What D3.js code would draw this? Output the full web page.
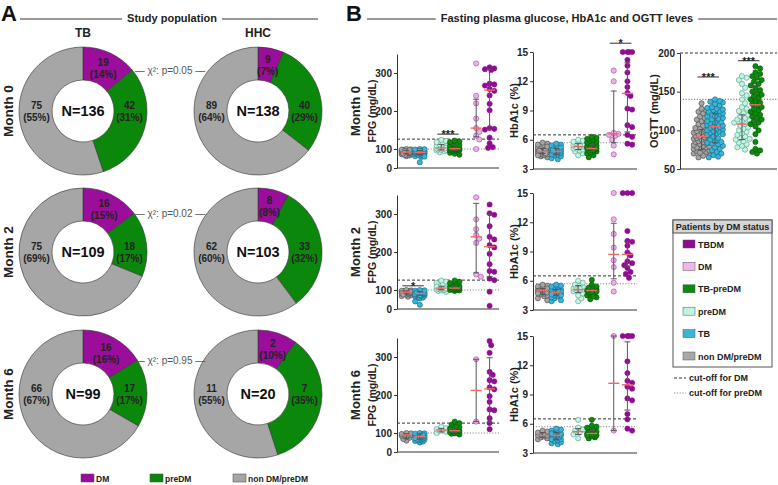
<!DOCTYPE html>
<html><head><meta charset="utf-8">
<script src="https://cdn.jsdelivr.net/npm/d3@7"></script>
<style>body{margin:0;background:#fff} svg{display:block;font-family:"Liberation Sans",Arial,sans-serif}</style>
</head><body><svg id="c" width="778" height="485"></svg>
<script>
// ---------------- DATA ----------------
const months = ["Month 0","Month 2","Month 6"];
const donutCats = ["DM","preDM","non DM/preDM"];
const tbCounts  = [[19,42,75],[16,18,75],[16,17,66]];
const tbPct     = [[14,31,55],[15,17,69],[16,17,67]];
const hhcCounts = [[9,40,89],[8,33,62],[2,7,11]];
const hhcPct    = [[7,29,64],[8,32,60],[10,35,55]];
const chiP = ["0.05","0.02","0.95"];

const groups = ["non DM/preDM","TB","preDM","TB-preDM","DM","TBDM"];
const legendOrder = ["TBDM","DM","TB-preDM","preDM","TB","non DM/preDM"];

const fpgTicks = [0,100,200,300];
const hba1cTicks = [3,6,9,12,15];
const ogttTicks = [50,100,150,200];
const fpgCutoffs = [126,100];     // DM, preDM
const hba1cCutoffs = [6.5,5.7];
const ogttCutoffs = [200,140];

// FPG (mg/dL) — groups in order of `groups`
const fpgM0 = [
 [62,66,70,72,74,75,77,78,79,80,81,82,83,84,85,86,86,87,88,89,90,91,92,93,94,95,96,97,98,100,68,76,84,90,95],
 [30,58,62,65,68,70,72,74,75,77,78,80,81,82,83,84,85,86,87,88,89,90,92,93,95,97,99,100,60,79,85,91],
 [82,88,92,95,98,100,102,104,106,108,110,112,115,118,121,124,96,103],
 [70,75,80,85,88,90,92,94,96,98,100,101,102,104,106,108,110,112,115,118,120,122,95,99],
 [100,125,135,145,155,180,220,240,325],
 [103,105,115,130,151,153,155,202,219,241,253,258,267,270,272,308,310,312,315]
];
const fpgM0Stats = [[84,74,93],[82,70,92],[103,95,112],[101,92,110],[155,132,231],[255,152,310]];
const fpgM2 = [
 [65,68,72,75,78,80,82,84,85,86,88,89,90,91,92,93,94,95,96,98,100,87,83,91,76],
 [22,40,55,60,63,66,68,70,72,74,76,78,79,80,81,82,83,84,85,86,88,90,92,94,96,98,100,77,87,73],
 [90,95,98,100,101,102,103,104,105,106,107,108,110,112,115,118,122,125,104,109],
 [95,98,100,100,101,102,103,104,105,106,108,110,112,115,118,122,125,107],
 [135,141,224,235,245,260,286,344],
 [17,91,126,130,148,150,168,195,212,218,233,240,268,298,302,325]
];
const fpgM2Stats = [[88,80,95],[82,72,92],[105,101,110],[105,101,110],[240,145,328],[214,135,300]];
const fpgM6 = [
 [60,68,75,80,85,89,90,92,95,98,100],
 [50,55,58,60,62,65,68,70,72,74,76,78,80,82,84,86,88,90,92,94,96,98,100,66,79,85,91,73],
 [100,103,106,108,110,113,117],
 [92,96,98,100,102,104,105,106,107,108,110,112,115,118,122,126,130],
 [130,294],
 [110,126,139,160,162,182,197,215,220,236,239,253,261,311,331,342]
];
const fpgM6Stats = [[89,70,96],[82,68,95],[108,103,112],[106,101,113],[212,130,294],[216,128,298]];

// HbA1c (%)
const hba1cM0 = [
 [4.2,4.3,4.4,4.5,4.5,4.6,4.6,4.7,4.7,4.8,4.8,4.8,4.9,4.9,5.0,5.0,5.1,5.1,5.2,5.2,5.3,5.4,5.5,5.6,5.7,4.4,4.9,5.0,4.6,5.3],
 [4.0,4.1,4.3,4.4,4.5,4.6,4.6,4.7,4.7,4.8,4.8,4.9,4.9,5.0,5.0,5.1,5.1,5.2,5.3,5.4,5.5,5.6,4.5,4.8,5.0,5.2],
 [4.4,4.6,4.8,4.9,5.0,5.1,5.2,5.3,5.3,5.4,5.5,5.6,5.7,5.8,5.9,6.0,5.1,5.4],
 [4.2,4.4,4.6,4.7,4.8,4.9,5.0,5.0,5.1,5.1,5.2,5.3,5.4,5.5,5.6,5.7,5.8,5.9,6.0,6.1,6.2,6.3,5.2,4.9],
 [4.5,5.4,6.0,6.4,6.5,6.6,6.7,12.0,13.1],
 [5.5,5.6,6.3,6.5,7.3,7.5,9.1,9.2,10.5,10.8,11.4,12.0,12.9,13.6,14.2,15,15,15,15]
];
const hba1cM0Stats = [[4.8,4.6,5.1],[4.8,4.5,5.1],[5.3,5.0,5.6],[5.1,4.8,5.5],[6.6,5.7,11.0],[10.75,6.8,13.9]];
const hba1cM2 = [
 [4.0,4.2,4.4,4.5,4.6,4.7,4.8,4.9,5.0,5.0,5.1,5.1,5.2,5.3,5.4,5.5,5.6,4.8,5.0,4.9,5.2,4.7],
 [3.9,4.0,4.2,4.3,4.4,4.5,4.6,4.7,4.7,4.8,4.8,4.9,5.0,5.1,5.2,5.3,5.4,5.5,5.6,4.6,4.9,5.0,4.5],
 [3.9,4.2,4.5,4.7,4.9,5.0,5.1,5.2,5.3,5.4,5.5,5.6,5.8,6.0,5.0,5.2],
 [4.1,4.3,4.5,4.6,4.7,4.8,4.9,5.0,5.1,5.2,5.4,5.6,6.1,4.9,5.0,4.8,5.3,4.4],
 [4.9,5.8,7.4,8.1,9.4,10.8,12.3,15],
 [6.3,6.7,6.9,7.3,7.6,7.8,8.0,8.6,8.9,9.6,10.0,10.1,11.1,15,15,15]
];
const hba1cM2Stats = [[5.0,4.6,5.2],[4.8,4.5,5.1],[5.1,4.8,5.5],[5.0,4.7,5.3],[8.7,6.2,11.9],[8.7,7.5,10.0]];
const hba1cM6 = [
 [4.4,4.5,4.6,4.7,4.8,4.8,4.9,5.0,5.1,5.2,5.3],
 [3.9,4.0,4.1,4.2,4.3,4.4,4.5,4.6,4.7,4.8,4.8,4.9,5.0,5.1,5.2,5.3,5.4,5.5,4.6,4.9,5.0,4.4],
 [4.5,4.9,5.1,5.3,5.4,5.6,6.4],
 [4.5,4.6,4.7,4.8,4.9,4.9,5.0,5.0,5.1,5.2,5.3,5.4,5.6,5.7,5.8,6.4,4.8],
 [5.3,15],
 [5.3,5.5,6.45,7.0,8.4,8.6,9.6,9.8,10.2,10.4,11.2,12.4,15,15,15,15]
];
const hba1cM6Stats = [[4.8,4.6,5.1],[4.8,4.4,5.1],[5.2,4.9,5.5],[5.0,4.8,5.3],[10.15,5.3,15],[10.0,7.4,14.4]];

// OGTT (mg/dL), Month 0, first four groups
const ogttM0 = [
 [65,67,68,70,72,73,74,75,76,77,78,78,79,80,81,82,83,84,85,85,86,87,88,89,90,91,92,92,93,94,95,96,97,98,99,100,101,102,103,104,106,108,110,112,114,116,118,120,122,124,126,128,135,71,88,96],
 [65,66,68,70,72,74,76,78,80,82,83,84,86,88,90,92,94,96,97,98,99,100,101,102,103,104,105,106,107,108,109,110,111,112,114,116,118,120,121,122,123,124,125,126,127,128,130,132,134,136,138,140,95,115,85,118,129,137],
 [75,78,80,82,84,86,88,89,90,92,94,96,98,100,102,104,106,108,110,112,113,114,116,118,120,122,125,128,130,135,140,145,148,155,160,165,168,170],
 [70,72,74,76,85,95,100,105,108,110,112,114,116,118,120,122,124,126,128,130,132,134,136,138,140,142,144,146,148,150,152,155,158,160,163,165,168,170,173,175,180,183]
];
const ogttM0Stats = [[92,75,101],[105,84,122],[108,88,120],[133,113,157]];

const sigMarks = [
 {panel:"fpg",  month:0, a:2, b:3, v:139, t:"***"},
 {panel:"hba1c",month:0, a:4, b:5, v:15.9, t:"*"},
 {panel:"ogtt", month:0, a:0, b:1, v:169, t:"***"},
 {panel:"ogtt", month:0, a:2, b:3, v:190, t:"***"},
 {panel:"fpg",  month:1, a:0, b:1, v:111, t:"*"}
];

// ---------------- STYLE ----------------
const donutColors = ["#9b0e9b","#0b880b","#a6a6a6"];
const groupFill   = ["#a5a5a5","#3ab5d8","#c4f5e3","#0b8a0b","#efb0ea","#900d92"];
const groupStroke = ["#444","#15607c","#4f9c86","#045504","#9a4a96","#900d92"];
const legendFill  = {"TBDM":"#8d0b8d","DM":"#f4b4f0","TB-preDM":"#0b8a0b","preDM":"#bff4e2","TB":"#3ab5d8","non DM/preDM":"#a8a8a8"};
const svg = d3.select("#c");
const BOLD = 700;

// ---------------- TITLES ----------------
function header(letterX, lineX0, lineX1, textX, text, title){
  svg.append("text").attr("x",letterX).attr("y",21).attr("font-size",22).attr("font-weight",BOLD).attr("fill","#111").text(title);
  const t = svg.append("text").attr("x",textX).attr("y",22).attr("text-anchor","middle")
    .attr("font-size",11).attr("font-weight",BOLD).attr("fill","#222").text(text);
  const w = t.node().getComputedTextLength();
  svg.append("line").attr("x1",lineX0).attr("x2",textX-w/2-5).attr("y1",19).attr("y2",19).attr("stroke","#333");
  svg.append("line").attr("x1",textX+w/2+5).attr("x2",lineX1).attr("y1",19).attr("y2",19).attr("stroke","#333");
}
header(1, 20, 318, 172, "Study population", "A");
header(346, 367, 777, 567, "Fasting plasma glucose, HbA1c and OGTT leves", "B");

// ---------------- PANEL A : DONUTS ----------------
const rowCY = [111, 252, 394];
const colCX = [83, 258];
const rOut = 64, rIn = 31;
const pie = d3.pie().sort(null).value(d=>d);
const arc = d3.arc().innerRadius(rIn).outerRadius(rOut);
const lblArc = d3.arc().innerRadius((rIn+rOut)/2).outerRadius((rIn+rOut)/2);
const midR = (rIn+rOut)/2;

["TB","HHC"].forEach((t,c)=>{
  svg.append("text").attr("x",colCX[c]).attr("y",37).attr("text-anchor","middle")
    .attr("font-size",12).attr("font-weight",BOLD).attr("fill","#222").text(t);
});

months.forEach((m,r)=>{
  svg.append("text").attr("transform",`translate(13,${rowCY[r]}) rotate(-90)`).attr("text-anchor","middle")
    .attr("font-size",13.5).attr("font-weight",BOLD).attr("fill","#222").text(m);
  [tbCounts, hhcCounts].forEach((cnts,c)=>{
    const pcts = c===0 ? tbPct[r] : hhcPct[r];
    const g = svg.append("g").attr("transform",`translate(${colCX[c]},${rowCY[r]})`);
    const arcs = pie(cnts[r]);
    g.selectAll("path").data(arcs).join("path").attr("d",arc)
      .attr("fill",(d,i)=>donutColors[i]).attr("stroke","#333").attr("stroke-width",0.6);
    arcs.forEach((d,i)=>{
      let [lx,ly] = lblArc.centroid(d);
      // slices crossing the horizontal diameter carry their label at mid height
      if (d.startAngle < Math.PI/2 && d.endAngle > Math.PI/2) { lx = midR - 1; ly = 0; }
      else if (d.startAngle < 3*Math.PI/2 && d.endAngle > 3*Math.PI/2) { lx = -midR + 1; ly = 0; }
      const tx = g.append("text").attr("text-anchor","middle").attr("font-size",10).attr("font-weight",BOLD).attr("fill","#222");
      tx.append("tspan").attr("x",lx).attr("y",ly-2).text(cnts[r][i]);
      tx.append("tspan").attr("x",lx).attr("y",ly+10).text(`(${pcts[i]}%)`);
    });
    g.append("text").attr("text-anchor","middle").attr("y",5).attr("font-size",14.5).attr("font-weight",BOLD)
      .attr("fill","#111").text("N=" + d3.sum(cnts[r]));
  });
  // chi-square annotation at the TB DM-slice boundary height
  const endA = pie(tbCounts[r])[0].endAngle;
  const cy = rowCY[r] - rOut*Math.cos(endA) + 4;
  svg.append("text").attr("x",170).attr("y",cy).attr("text-anchor","middle").attr("font-size",10)
    .attr("fill","#555").text(`— χ²: p=${chiP[r]} —`);
});

// legend A
const legA = [{x:81},{x:150},{x:233}];
donutCats.forEach((k,i)=>{
  svg.append("rect").attr("x",legA[i].x).attr("y",474).attr("width",13).attr("height",8)
    .attr("fill",donutColors[i]).attr("stroke","#444").attr("stroke-width",0.5);
  svg.append("text").attr("x",legA[i].x+15).attr("y",482).attr("font-size",8.5).attr("font-weight",BOLD).attr("fill","#222").text(k);
});

// ---------------- PANEL B : STRIP PLOTS ----------------
const rowDY = [0, 141, 284];
const R = 2.6;

function swarm(ys, cx, r, half){
  const order = d3.range(ys.length).sort((a,b)=>ys[a]-ys[b]);
  const placed = [], out = new Array(ys.length);
  const minD = 2*r*0.82, step = r*0.6;
  order.forEach(i=>{
    const y = ys[i];
    let best = 0, bestScore = -1;
    for (let k=0;k<80;k++){
      const off = k===0 ? 0 : (k%2 ? 1 : -1)*Math.ceil(k/2)*step;
      if (Math.abs(off) > half) break;
      let md = Infinity;
      for (const p of placed){ const d = Math.hypot(cx+off-p.x, y-p.y); if (d<md) md=d; }
      if (md >= minD){ best = off; bestScore = Infinity; break; }
      if (md > bestScore){ bestScore = md; best = off; }
    }
    const pt = {x:cx+best, y}; placed.push(pt); out[i] = pt;
  });
  return out;
}

function panel(cfg){
  const g = svg.append("g");
  const y = d3.scaleLinear().domain(cfg.domain).range(cfg.range.map(v=>v+cfg.dy));
  const x = d3.scaleLinear().domain(cfg.xDomain).range([cfg.x0, cfg.x1]);
  cfg.cutoffs.forEach((v,i)=>{
    g.append("line").attr("x1",cfg.x0).attr("x2",cfg.x1).attr("y1",y(v)).attr("y2",y(v))
      .attr("stroke", i===0 ? "#333" : "#8a8a8a").attr("stroke-width", i===0?1:1.1)
      .attr("stroke-dasharray", i===0 ? "3,2" : "1.2,1.6");
  });
  cfg.vals.forEach((vals,i)=>{
    const gi = cfg.groupIdx[i];
    const cx = x(cfg.pos[i]);
    const pts = swarm(vals.map(v=>y(v)), cx, R, cfg.half[i]);
    g.append("g").selectAll("circle").data(pts).join("circle")
      .attr("cx",d=>d.x).attr("cy",d=>d.y).attr("r",R)
      .attr("fill",groupFill[gi]).attr("stroke",groupStroke[gi]).attr("stroke-width",0.6);
  });
  cfg.stats.forEach((s,i)=>{
    const cx = x(cfg.pos[i]);
    const [med, lo, hi] = s;
    g.append("line").attr("x1",cx).attr("x2",cx).attr("y1",y(lo)).attr("y2",y(hi)).attr("stroke","#555").attr("stroke-width",1);
    [lo,hi].forEach(v=> g.append("line").attr("x1",cx-3).attr("x2",cx+3).attr("y1",y(v)).attr("y2",y(v)).attr("stroke","#555").attr("stroke-width",1));
    g.append("line").attr("x1",cx-5.5).attr("x2",cx+5.5).attr("y1",y(med)).attr("y2",y(med)).attr("stroke","#f06a64").attr("stroke-width",1.4);
  });
  const ax = g.append("g").attr("transform",`translate(${cfg.x0},0)`)
    .call(d3.axisLeft(y).tickValues(cfg.ticks).tickSize(3).tickSizeOuter(0).tickPadding(2));
  ax.select(".domain").attr("stroke","#333");
  ax.selectAll(".tick line").attr("stroke","#333");
  ax.selectAll(".tick text").attr("font-size",10).attr("font-weight",BOLD).attr("fill","#222").attr("font-family","Liberation Sans, Arial, sans-serif");
  g.append("line").attr("x1",cfg.x0).attr("x2",cfg.x1).attr("y1",y(cfg.domain[0])).attr("y2",y(cfg.domain[0])).attr("stroke","#333");
  const ymid = (y(cfg.domain[0]) + y(cfg.domain[cfg.domain.length-1]))/2;
  g.append("text").attr("transform",`translate(${cfg.labelX},${ymid}) rotate(-90)`).attr("text-anchor","middle")
    .attr("font-size",cfg.labelSize).attr("font-weight",BOLD).attr("fill","#222").text(cfg.label);
  sigMarks.filter(s=>s.panel===cfg.name && s.month===cfg.month).forEach(s=>{
    const xa = x(cfg.pos[s.a])-4, xb = x(cfg.pos[s.b])+4, yy = y(s.v);
    g.append("line").attr("x1",xa).attr("x2",xb).attr("y1",yy).attr("y2",yy).attr("stroke","#333");
    g.append("text").attr("x",(xa+xb)/2).attr("y",yy+4).attr("text-anchor","middle").attr("font-size",11)
      .attr("font-weight",BOLD).attr("fill","#222").text(s.t);
  });
  return y;
}

const fpgVals = [fpgM0,fpgM2,fpgM6], fpgStats = [fpgM0Stats,fpgM2Stats,fpgM6Stats];
const hbVals = [hba1cM0,hba1cM2,hba1cM6], hbStats = [hba1cM0Stats,hba1cM2Stats,hba1cM6Stats];
const pos6 = [0.7,1.7,3.3,4.3,5.9,6.9];
const half6 = [6,6,6,6,5,5];

months.forEach((m,r)=>{
  const dy = rowDY[r];
  svg.append("text").attr("transform",`translate(360,${111+dy}) rotate(-90)`).attr("text-anchor","middle")
    .attr("font-size",13).attr("font-weight",BOLD).attr("fill","#222").text(m);
  panel({name:"fpg", month:r, dy, domain:[0,100,350], range:[168,149,54], x0:397, x1:499, xDomain:[0,7.6],
    pos:pos6, half:half6, groupIdx:[0,1,2,3,4,5], vals:fpgVals[r], stats:fpgStats[r],
    cutoffs:fpgCutoffs, ticks:fpgTicks, label:"FPG (mg/dL)", labelX:376, labelSize:10.5});
  panel({name:"hba1c", month:r, dy, domain:[3,15], range:[169,52], x0:533, x1:637, xDomain:[0,7.6],
    pos:pos6, half:half6, groupIdx:[0,1,2,3,4,5], vals:hbVals[r], stats:hbStats[r],
    cutoffs:hba1cCutoffs, ticks:hba1cTicks, label:"HbA1c (%)", labelX:518, labelSize:11});
});
panel({name:"ogtt", month:0, dy:0, domain:[50,200], range:[169,53], x0:680, x1:777, xDomain:[0,7.2],
  pos:[1.6,2.6,4.6,5.6], half:[8,8,8,8], groupIdx:[0,1,2,3], vals:ogttM0, stats:ogttM0Stats,
  cutoffs:ogttCutoffs, ticks:ogttTicks, label:"OGTT (mg/dL)", labelX:658, labelSize:11});

// legend B
const lg = svg.append("g");
lg.append("rect").attr("x",673).attr("y",220).attr("width",99).attr("height",147).attr("fill","#fff").attr("stroke","#555");
lg.append("rect").attr("x",673).attr("y",220).attr("width",99).attr("height",13).attr("fill","#d6d6d6").attr("stroke","#555");
lg.append("text").attr("x",722.5).attr("y",230).attr("text-anchor","middle").attr("font-size",9).attr("font-weight",BOLD).attr("fill","#222").text("Patients by DM status");
legendOrder.forEach((k,i)=>{
  const yy = 244 + i*22.4;
  lg.append("rect").attr("x",683).attr("y",yy-4).attr("width",12).attr("height",8).attr("fill",legendFill[k]).attr("stroke","#555").attr("stroke-width",0.5);
  lg.append("text").attr("x",698).attr("y",yy+3.5).attr("font-size",9).attr("font-weight",BOLD).attr("fill","#222").text(k);
});
[["cut-off for DM","#333","3,2"],["cut-off for preDM","#8a8a8a","1.2,1.6"]].forEach((d,i)=>{
  const yy = 378 + i*15;
  lg.append("line").attr("x1",674).attr("x2",686).attr("y1",yy).attr("y2",yy).attr("stroke",d[1]).attr("stroke-dasharray",d[2]);
  lg.append("text").attr("x",689).attr("y",yy+3).attr("font-size",9).attr("font-weight",BOLD).attr("fill","#222").text(d[0]);
});
</script></body></html>
